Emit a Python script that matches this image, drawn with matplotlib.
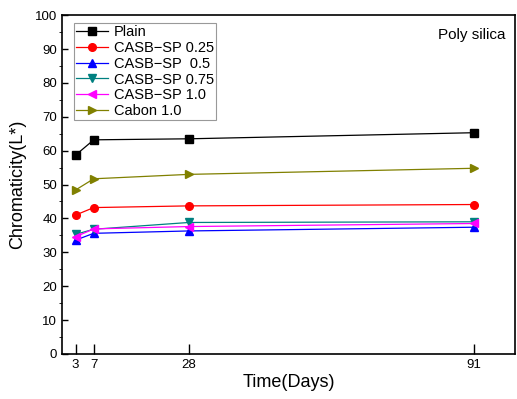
import matplotlib
matplotlib.use("Agg")
import matplotlib.pyplot as plt
from matplotlib.ticker import MultipleLocator

plt.rcParams['font.family'] = ['Liberation Sans', 'DejaVu Sans']

# curing time (days) and L* values for each mix
days = [3, 7, 28, 91]
plain = [58.7, 63.2, 63.5, 65.3]
casb_025 = [41.0, 43.2, 43.7, 44.1]
casb_05 = [33.6, 35.6, 36.3, 37.4]
casb_075 = [35.3, 36.8, 38.8, 39.0]
casb_10 = [34.6, 36.9, 37.6, 38.5]
cabon_10 = [48.4, 51.7, 53.0, 54.8]

series = [
    ("Plain", plain, "black", "s"),
    ("CASB\u2212SP 0.25", casb_025, "red", "o"),
    ("CASB\u2212SP  0.5", casb_05, "blue", "^"),
    ("CASB\u2212SP 0.75", casb_075, "#008080", "v"),
    ("CASB\u2212SP 1.0", casb_10, "magenta", "<"),
    ("Cabon 1.0", cabon_10, "#808000", ">"),
]

fig = plt.figure(figsize=(5.17, 3.99), dpi=100)
ax = fig.add_axes([0.12, 0.113, 0.876, 0.849])

for name, vals, col, mk in series:
    ax.plot(days, vals, color=col, marker=mk, markersize=5.5, linewidth=0.9,
            label=name)

ax.set_xlim(0, 100)
ax.set_ylim(0, 100)
ax.set_xticks(days)
ax.yaxis.set_major_locator(MultipleLocator(10))
ax.yaxis.set_minor_locator(MultipleLocator(5))
ax.tick_params(axis='both', direction='in', labelsize=9.5, width=1)
ax.tick_params(axis='x', length=7)
ax.tick_params(axis='y', which='major', length=4)
ax.tick_params(axis='y', which='minor', length=2)
for sp in ax.spines.values():
    sp.set_linewidth(1.2)

ax.set_xlabel("Time(Days)", fontsize=13, labelpad=2)
ax.set_ylabel("Chromaticity(L*)", fontsize=13, labelpad=6)

ax.text(0.98, 0.94, "Poly silica", transform=ax.transAxes, ha='right',
        va='center', fontsize=11)

leg = ax.legend(loc='upper left', bbox_to_anchor=(0.02, 0.985), fontsize=10.5,
                frameon=True, fancybox=False, edgecolor='gray',
                handlelength=2.2, handletextpad=0.4, borderpad=0.15,
                labelspacing=0.12, borderaxespad=0.2)
leg.get_frame().set_linewidth(0.8)

fig.savefig("out.png", dpi=100)
